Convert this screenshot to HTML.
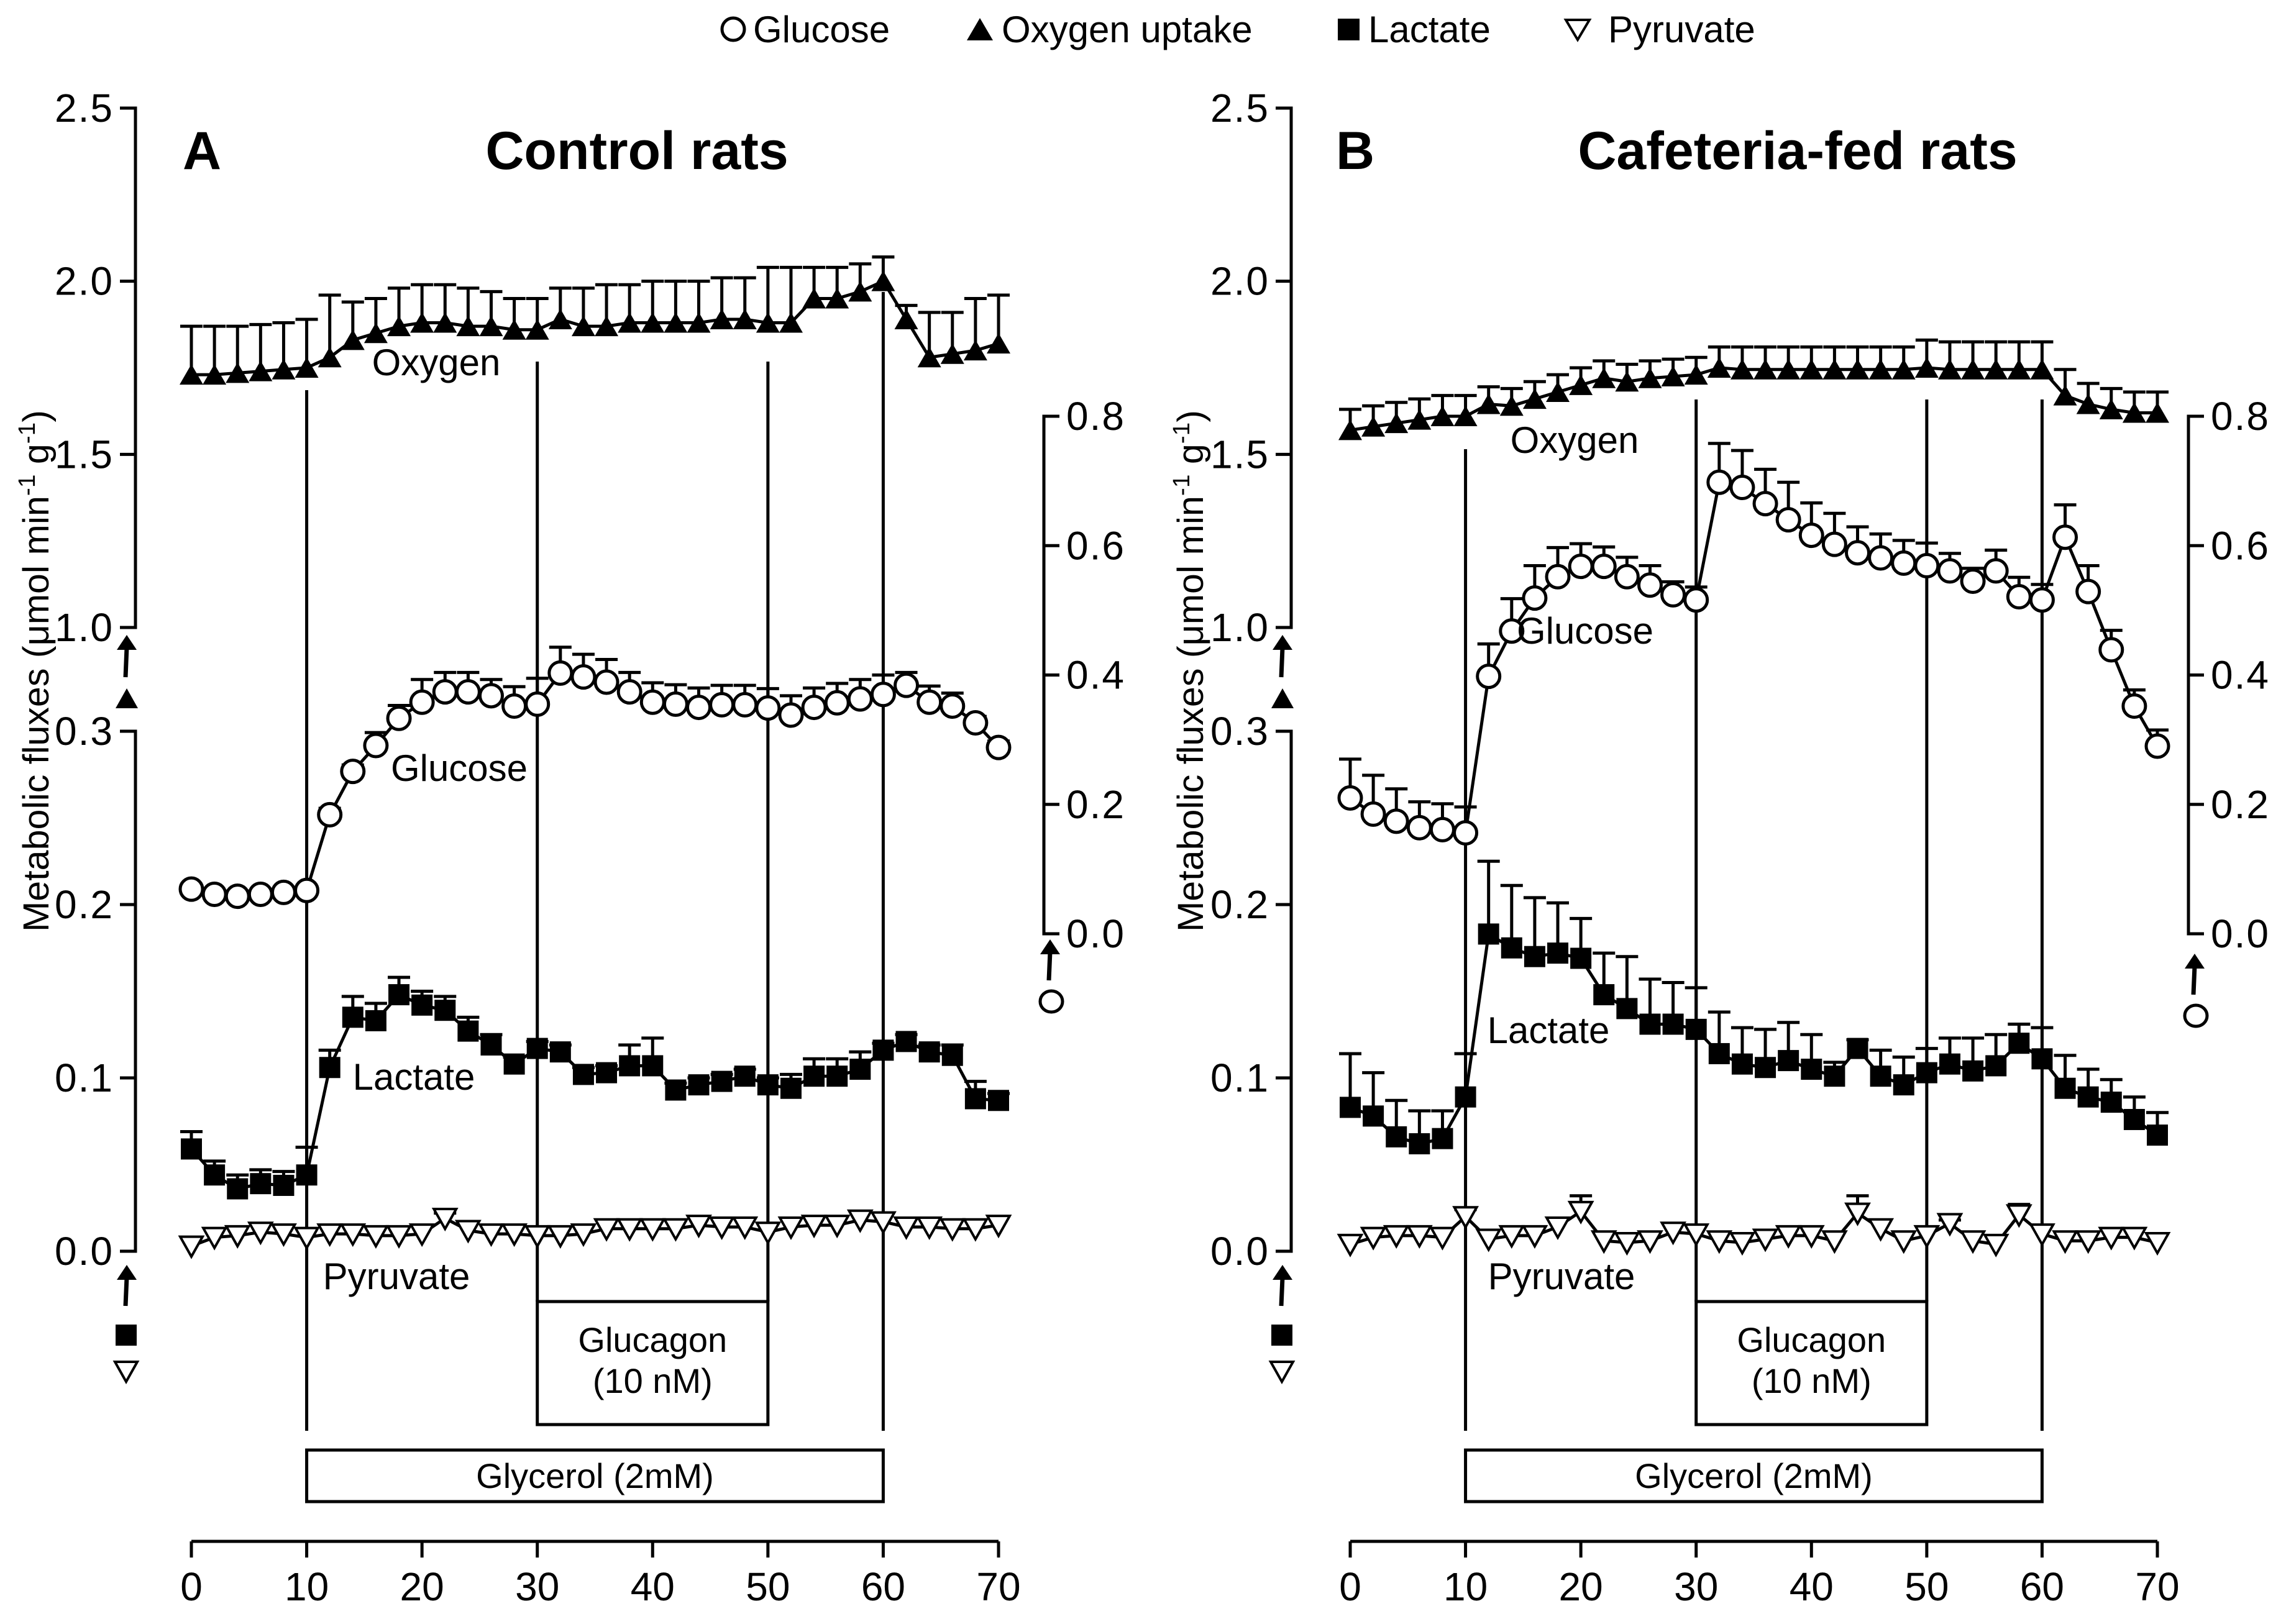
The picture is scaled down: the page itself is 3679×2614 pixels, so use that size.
<!DOCTYPE html>
<html><head><meta charset="utf-8"><style>
html,body{margin:0;padding:0;background:#fff;}
svg{display:block;font-family:"Liberation Sans",sans-serif;}
</style></head><body>
<svg id="fig" width="3679" height="2614" viewBox="0 0 3679 2614" xmlns="http://www.w3.org/2000/svg">
<g id="legend" font-size="60" fill="#000">
 <g><circle cx="1180" cy="47" r="18" fill="#fff" stroke="#000" stroke-width="5"/><text x="1212" y="68">Glucose</text></g>
 <g><polygon points="1556,65 1577,29 1598,65" fill="#000"/><text x="1612" y="68">Oxygen uptake</text></g>
 <g><rect x="2153" y="30" width="35" height="35" fill="#000"/><text x="2202" y="68">Lactate</text></g>
 <g><polygon points="2520,32 2558,32 2539,64" fill="#fff" stroke="#000" stroke-width="4"/><text x="2588" y="68">Pyruvate</text></g>
</g>
</svg>
<script>
const times = [0,2,4,6,8,10,12,14,16,18,20,22,24,26,28,30,32,34,36,38,40,42,44,46,48,50,52,54,56,58,60,62,64,66,68,70];
const xTickLabels = ["0","10","20","30","40","50","60","70"];
const upperTicks = ["2.5","2.0","1.5","1.0"];
const lowerTicks = ["0.3","0.2","0.1","0.0"];
const rightTicks = ["0.8","0.6","0.4","0.2","0.0"];

const oxyA = [1.73,1.73,1.735,1.74,1.745,1.75,1.78,1.83,1.85,1.87,1.88,1.88,1.87,1.87,1.86,1.86,1.89,1.87,1.87,1.88,1.88,1.88,1.88,1.89,1.89,1.88,1.88,1.95,1.95,1.97,2.00,1.89,1.78,1.79,1.80,1.82];
const oxyErrA = [0.14,0.14,0.135,0.135,0.135,0.14,0.18,0.11,0.10,0.11,0.11,0.11,0.11,0.10,0.09,0.09,0.09,0.11,0.12,0.11,0.12,0.12,0.12,0.12,0.12,0.16,0.16,0.09,0.09,0.08,0.07,0.04,0.13,0.12,0.15,0.14];
const gluA = [0.069,0.061,0.058,0.061,0.064,0.067,0.184,0.251,0.291,0.333,0.358,0.374,0.374,0.368,0.352,0.355,0.403,0.397,0.389,0.374,0.358,0.355,0.350,0.354,0.354,0.349,0.338,0.350,0.357,0.363,0.370,0.384,0.358,0.352,0.326,0.288];
const gluErrA = [0.005,0.005,0.005,0.005,0.005,0.005,0.01,0.01,0.02,0.02,0.035,0.03,0.03,0.025,0.03,0.04,0.04,0.035,0.035,0.03,0.03,0.03,0.03,0.03,0.03,0.03,0.03,0.03,0.03,0.03,0.03,0.02,0.025,0.02,0.01,0.01];
const lacA = [0.059,0.044,0.036,0.039,0.038,0.044,0.106,0.135,0.133,0.148,0.142,0.139,0.127,0.119,0.108,0.117,0.115,0.102,0.103,0.107,0.107,0.093,0.096,0.098,0.101,0.096,0.094,0.101,0.101,0.105,0.116,0.121,0.115,0.113,0.088,0.087];
const lacErrA = [0.01,0.008,0.008,0.008,0.008,0.016,0.01,0.012,0.01,0.01,0.008,0.008,0.008,0.006,0.004,0.004,0.004,0.004,0.004,0.012,0.016,0.004,0.004,0.004,0.004,0.004,0.008,0.01,0.01,0.01,0.004,0.004,0.004,0.006,0.01,0.004];
const pyrA = [0.003,0.008,0.009,0.011,0.010,0.008,0.010,0.010,0.009,0.009,0.010,0.019,0.012,0.010,0.010,0.009,0.009,0.010,0.013,0.013,0.013,0.013,0.015,0.014,0.014,0.011,0.014,0.015,0.015,0.018,0.017,0.014,0.014,0.013,0.013,0.015];
const pyrErrA = [0,0,0,0,0,0,0,0,0,0,0,0.003,0,0,0,0,0,0,0,0,0,0,0,0,0,0,0,0,0,0,0,0,0,0,0,0];

const oxyB = [1.57,1.58,1.59,1.60,1.61,1.61,1.645,1.64,1.66,1.68,1.70,1.72,1.71,1.72,1.725,1.73,1.75,1.745,1.745,1.745,1.745,1.745,1.745,1.745,1.745,1.75,1.745,1.745,1.745,1.745,1.745,1.67,1.645,1.63,1.62,1.62];
const oxyErrB = [0.06,0.06,0.06,0.06,0.06,0.06,0.05,0.05,0.05,0.05,0.05,0.05,0.05,0.05,0.05,0.05,0.06,0.065,0.065,0.065,0.065,0.065,0.065,0.065,0.065,0.08,0.08,0.08,0.08,0.08,0.08,0.075,0.06,0.06,0.06,0.06];
const gluB = [0.210,0.185,0.174,0.164,0.161,0.156,0.398,0.468,0.519,0.552,0.568,0.568,0.552,0.539,0.524,0.516,0.698,0.690,0.665,0.640,0.616,0.602,0.589,0.581,0.573,0.569,0.561,0.545,0.561,0.521,0.516,0.613,0.529,0.439,0.352,0.290];
const gluErrB = [0.06,0.06,0.05,0.04,0.04,0.04,0.05,0.05,0.05,0.045,0.035,0.03,0.03,0.03,0.02,0.02,0.06,0.057,0.053,0.058,0.05,0.048,0.04,0.037,0.035,0.035,0.027,0.02,0.032,0.03,0.024,0.05,0.04,0.03,0.025,0.025];
const lacB = [0.083,0.078,0.066,0.062,0.065,0.089,0.183,0.175,0.170,0.172,0.169,0.148,0.140,0.131,0.131,0.128,0.114,0.108,0.106,0.110,0.105,0.101,0.117,0.101,0.096,0.103,0.108,0.104,0.107,0.120,0.111,0.094,0.089,0.086,0.076,0.067];
const lacErrB = [0.031,0.025,0.021,0.019,0.016,0.025,0.042,0.036,0.034,0.029,0.023,0.024,0.03,0.026,0.024,0.024,0.024,0.021,0.022,0.022,0.02,0.008,0.005,0.015,0.016,0.014,0.015,0.019,0.018,0.011,0.018,0.019,0.016,0.013,0.013,0.013];
const pyrB = [0.004,0.008,0.009,0.009,0.008,0.020,0.007,0.009,0.009,0.014,0.023,0.006,0.005,0.006,0.011,0.010,0.006,0.005,0.007,0.009,0.009,0.006,0.022,0.013,0.006,0.009,0.016,0.006,0.004,0.021,0.010,0.006,0.006,0.008,0.008,0.005];
const pyrErrB = [0,0,0,0,0,0.004,0,0,0,0.005,0.009,0,0,0,0,0,0,0,0,0,0,0,0.01,0,0,0,0.002,0,0,0.006,0,0,0,0,0,0];

const NS = "http://www.w3.org/2000/svg";
const svg = document.getElementById("fig");
function mk(tag, attrs, parent){ const e=document.createElementNS(NS,tag); for(const k in attrs) e.setAttribute(k,attrs[k]); (parent||svg).appendChild(e); return e; }

const yUp = v => 174 + (2.5 - v) * 557.33;
const yLow = v => 2014 - v * 2790;
const yR = v => 1503 - v * 1041.25;

function panel(P){
  const g = mk("g",{});
  
  
  const xS = t => P.x0 + (t/70)*(P.x70-P.x0);
  const sw = 5;
  const ua = mk("path",{d:`M${P.axL-25},${yUp(2.5)} H${P.axL} V${yUp(1.0)} H${P.axL-25}`,fill:"none",stroke:"#000","stroke-width":sw},g);
  
  
  upperTicks.forEach(s=>{ const v=parseFloat(s); const y=yUp(v);
    mk("line",{x1:P.axL-25,x2:P.axL,y1:y,y2:y,stroke:"#000","stroke-width":sw},g);
    const t=mk("text",{x:P.axL-35,y:y+22,"text-anchor":"end","font-size":64,"letter-spacing":"2"},g); t.textContent=s;
    
    
  });
  const la = mk("path",{d:`M${P.axL-25},${yLow(0.3)} H${P.axL} V${yLow(0)} H${P.axL-25}`,fill:"none",stroke:"#000","stroke-width":sw},g);
  
  
  lowerTicks.forEach(s=>{ const v=parseFloat(s); const y=yLow(v);
    mk("line",{x1:P.axL-25,x2:P.axL,y1:y,y2:y,stroke:"#000","stroke-width":sw},g);
    const t=mk("text",{x:P.axL-35,y:y+22,"text-anchor":"end","font-size":64,"letter-spacing":"2"},g); t.textContent=s;
    
    
  });
  const ra = mk("path",{d:`M${P.axR+25},${yR(0.8)} H${P.axR} V${yR(0)} H${P.axR+25}`,fill:"none",stroke:"#000","stroke-width":sw},g);
  
  
  rightTicks.forEach(s=>{ const v=parseFloat(s); const y=yR(v);
    mk("line",{x1:P.axR,x2:P.axR+25,y1:y,y2:y,stroke:"#000","stroke-width":sw},g);
    const t=mk("text",{x:P.axR+36,y:y+22,"font-size":64,"letter-spacing":"2"},g); t.textContent=s;
    
    
  });
  const xa = mk("line",{x1:P.x0,x2:P.x70,y1:2481,y2:2481,stroke:"#000","stroke-width":sw},g);
  
  
  xTickLabels.forEach(s=>{ const x=xS(parseFloat(s));
    mk("line",{x1:x,x2:x,y1:2481,y2:2507,stroke:"#000","stroke-width":sw},g);
    const t=mk("text",{x:x,y:2576,"text-anchor":"middle","font-size":64},g); t.textContent=s;
    
    
  });
  const yl = mk("text",{x:0,y:0,"text-anchor":"middle","font-size":58,transform:`translate(${P.ylx},1080) rotate(-90)`,textLength:840,lengthAdjust:"spacingAndGlyphs"},g);
  yl.innerHTML = 'Metabolic fluxes (μmol min<tspan dy="-22" font-size="38">-1</tspan><tspan dy="22"> g</tspan><tspan dy="-22" font-size="38">-1</tspan><tspan dy="22">)</tspan>';
  
  
  const pl = mk("text",{x:P.letterX,y:272,"font-size":86,"font-weight":"bold"},g); pl.textContent=P.letter;
  
  
  const ti = mk("text",{x:P.titleX,y:272,"font-size":86,"font-weight":"bold","text-anchor":"middle"},g); ti.textContent=P.title;
  
  
  function arrow(x,yTip,yTail){ mk("line",{x1:x-2,y1:yTail,x2:x,y2:yTip+20,stroke:"#000","stroke-width":7},g); mk("polygon",{points:`${x-16},${yTip+24} ${x},${yTip} ${x+16},${yTip+24}`,fill:"#000"},g); }
  arrow(P.axL-14,1022,1090);
  mk("polygon",{points:`${P.axL-32},${1140} ${P.axL-14},${1108} ${P.axL+4},${1140}`,fill:"#000"},g);
  arrow(P.axL-14,2036,2102);
  mk("rect",{x:P.axL-32,y:2132,width:34,height:34,fill:"#000"},g);
  mk("polygon",{points:`${P.axL-33},${2192} ${P.axL+3},${2192} ${P.axL-15},${2224}`,fill:"#fff",stroke:"#000","stroke-width":4},g);
  arrow(P.axR+10,P.axRArrow,P.axRArrow+66);
  mk("ellipse",{cx:P.axR+12,cy:P.axRArrow+100,rx:18,ry:17,fill:"#fff",stroke:"#000","stroke-width":5},g);
  P.vlines.forEach(v=>{ const l=mk("line",{x1:xS(v[0]),x2:xS(v[0]),y1:v[1],y2:v[2],stroke:"#000","stroke-width":5},g);
    
    
  });
  const gb = mk("rect",{x:xS(30),y:2095,width:xS(50)-xS(30),height:198,fill:"#fff",stroke:"#000","stroke-width":5},g);
  
  
  const gt1=mk("text",{x:(xS(30)+xS(50))/2,y:2176,"text-anchor":"middle","font-size":56},g); gt1.textContent="Glucagon";
  
  
  const gt2=mk("text",{x:(xS(30)+xS(50))/2,y:2242,"text-anchor":"middle","font-size":56},g); gt2.textContent="(10 nM)";
  
  
  const yb = mk("rect",{x:xS(10),y:2334,width:xS(60)-xS(10),height:83,fill:"#fff",stroke:"#000","stroke-width":5},g);
  
  
  const yt=mk("text",{x:(xS(10)+xS(60))/2,y:2395,"text-anchor":"middle","font-size":56},g); yt.textContent="Glycerol (2mM)";
  
  
  function series(name, vals, errs, yf, shape){
    const sg = mk("g",{},g);
    
    
    const pts = vals.map((v,i)=>[xS(times[i]), yf(v)]);
    mk("polyline",{points:pts.map(p=>p.join(",")).join(" "),fill:"none",stroke:"#000","stroke-width":5},sg);
    vals.forEach((v,i)=>{ if(errs[i]>0){ const x=pts[i][0], yt=yf(v+errs[i]);
      mk("line",{x1:x,x2:x,y1:pts[i][1],y2:yt,stroke:"#000","stroke-width":5},sg);
      mk("line",{x1:x-18,x2:x+18,y1:yt,y2:yt,stroke:"#000","stroke-width":5},sg);} });
    pts.forEach(([x,y])=>{ let m;
      if(shape==="tri") m=mk("polygon",{points:`${x-19},${y+16} ${x},${y-17} ${x+19},${y+16}`,fill:"#000"},sg);
      else if(shape==="circ") m=mk("circle",{cx:x,cy:y,r:18,fill:"#fff",stroke:"#000","stroke-width":5},sg);
      else if(shape==="sq") m=mk("rect",{x:x-17,y:y-17,width:34,height:34,fill:"#000"},sg);
      else m=mk("polygon",{points:`${x-18},${y-15} ${x+18},${y-15} ${x},${y+17}`,fill:"#fff",stroke:"#000","stroke-width":4},sg);
      
      
    });
  }
  series("oxygen", P.oxy, P.oxyErr, yUp, "tri");
  series("glucose", P.glu, P.gluErr, yR, "circ");
  series("lactate", P.lac, P.lacErr, yLow, "sq");
  series("pyruvate", P.pyr, P.pyrErr, yLow, "dtri");
  P.labels.forEach(L=>{ const t=mk("text",{x:L[1],y:L[2],"text-anchor":"middle","font-size":60},g); t.textContent=L[0];
    
    
  });
}

panel({id:"control", axL:218, x0:308, x70:1607, axR:1680, axRArrow:1512, ylx:78, letter:"A", letterX:294, title:"Control rats", titleX:1025,
  vlines:[[10,628,2303],[30,582,2095],[50,582,2095],[60,470,2303]],
  oxy:oxyA, oxyErr:oxyErrA, glu:gluA, gluErr:gluErrA, lac:lacA, lacErr:lacErrA, pyr:pyrA, pyrErr:pyrErrA,
  labels:[["Oxygen",702,604],["Glucose",739,1257],["Lactate",666,1754],["Pyruvate",638,2075]]});
panel({id:"cafeteria", axL:2078, x0:2173, x70:3472, axR:3522, axRArrow:1535, ylx:1936, letter:"B", letterX:2150, title:"Cafeteria-fed rats", titleX:2893,
  vlines:[[10,723,2303],[30,643,2095],[50,643,2095],[60,643,2303]],
  oxy:oxyB, oxyErr:oxyErrB, glu:gluB, gluErr:gluErrB, lac:lacB, lacErr:lacErrB, pyr:pyrB, pyrErr:pyrErrB,
  labels:[["Oxygen",2534,729],["Glucose",2551,1036],["Lactate",2492,1679],["Pyruvate",2513,2075]]});
</script>
</body></html>
